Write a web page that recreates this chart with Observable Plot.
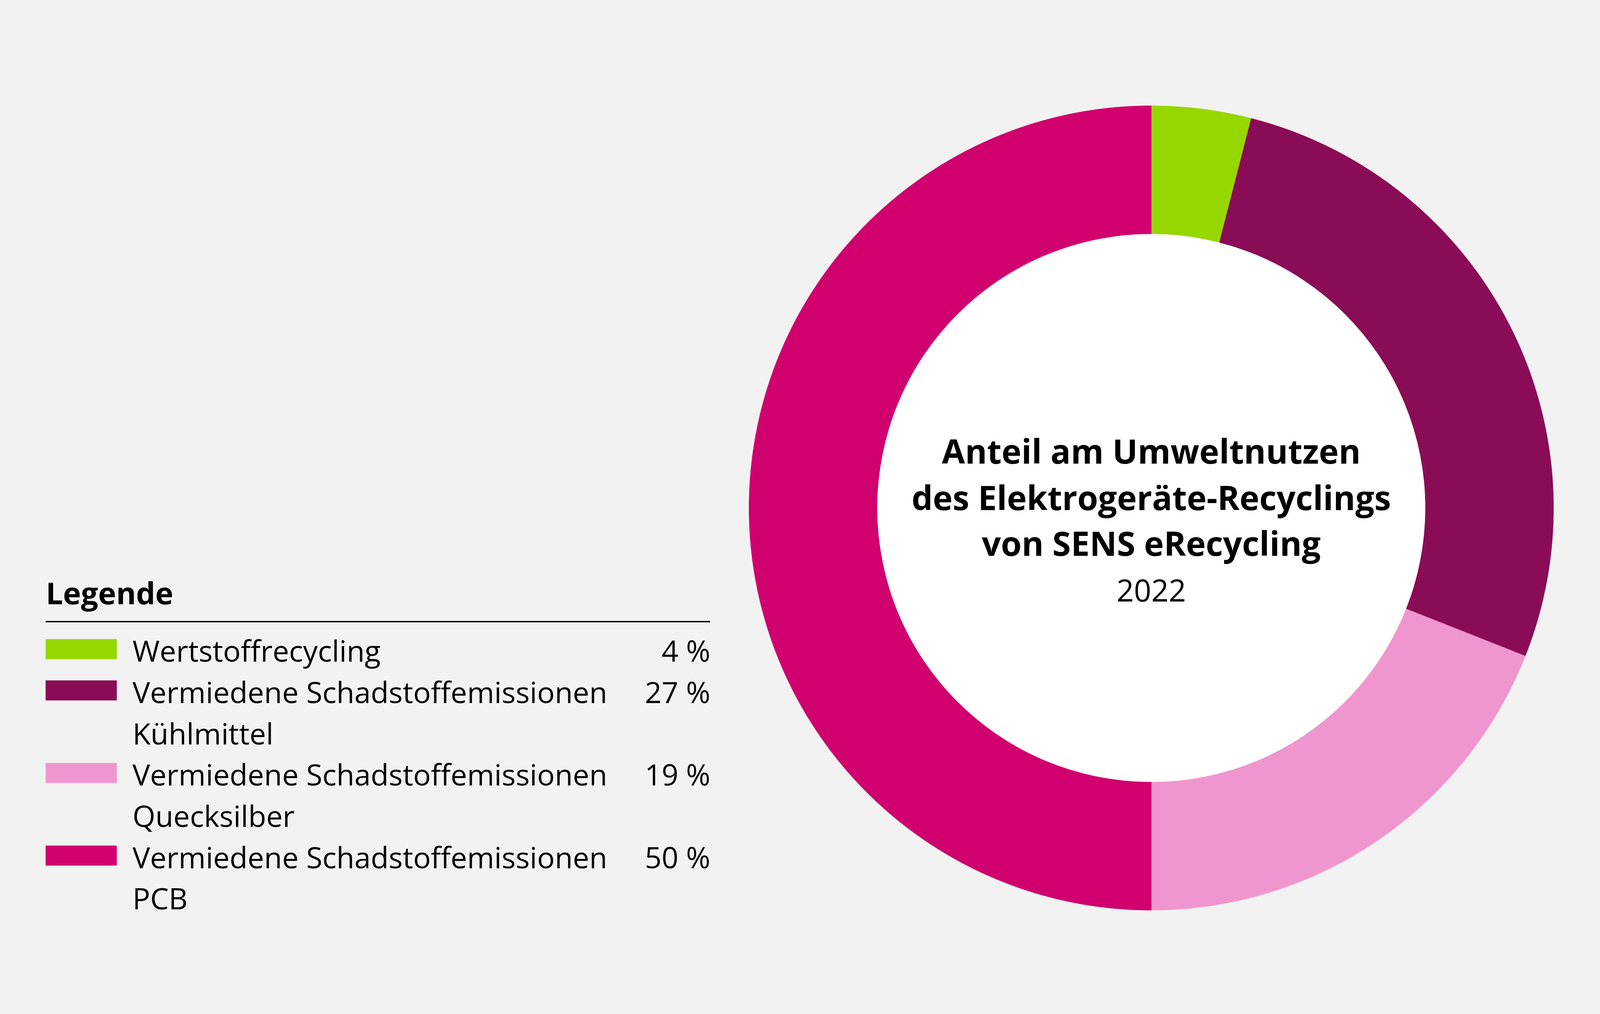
<!DOCTYPE html>
<html><head><meta charset="utf-8">
<script src="https://cdn.jsdelivr.net/npm/d3@7"></script>
<script src="https://cdn.jsdelivr.net/npm/@observablehq/plot@0.6"></script>
<style>
html,body{margin:0;padding:0;background:#f2f2f2;height:100%;overflow:hidden;}
#chart{width:100%;height:100vh;display:flex;align-items:center;justify-content:center;}
#chart svg{display:block;width:100%;height:auto;max-width:100%;}
svg text.onum{font-variant-numeric:oldstyle-nums;font-feature-settings:"onum" 1;}
</style>
</head><body><div id="chart"></div>
<script>
// ---- data ----
const categories = [
  "Wertstoffrecycling",
  "Vermiedene Schadstoffemissionen Kühlmittel",
  "Vermiedene Schadstoffemissionen Quecksilber",
  "Vermiedene Schadstoffemissionen PCB"
];
const labelLines = [
  ["Wertstoffrecycling"],
  ["Vermiedene Schadstoffemissionen", "Kühlmittel"],
  ["Vermiedene Schadstoffemissionen", "Quecksilber"],
  ["Vermiedene Schadstoffemissionen", "PCB"]
];
const shares = [4, 27, 19, 50];
const colors = ["#97d700", "#8a0c56", "#f096ce", "#d0006f"];
const titleLines = ["Anteil am Umweltnutzen", "des Elektrogeräte-Recyclings", "von SENS eRecycling"];
const subtitle = "2022";
const legendTitle = "Legende";

// ---- layout ----
const W = 4630, H = 2596;
const cx = 3331, cy = 1300, R = 1164, r0 = 793;
const font = "'Open Sans', 'Noto Sans', sans-serif";

// pie geometry from the data
const arcs = d3.pie().sort(null).value(d => d)(shares);
const wedge = [];
arcs.forEach((a, i) => {
  const cat = categories[i];
  wedge.push({cat, x: cx, y: cy});
  const n = Math.max(8, Math.ceil((a.endAngle - a.startAngle) / 0.002));
  for (let k = 0; k <= n; k++) {
    const t = a.startAngle + (a.endAngle - a.startAngle) * k / n;
    wedge.push({cat, x: cx + R * Math.sin(t), y: cy - R * Math.cos(t)});
  }
  wedge.push({cat, x: cx, y: cy});
});

// legend rows
const lx0 = 132, lx1 = 2055, textX = 383, base0 = 1745, step = 119.5;
const legendRows = [];
const pctRows = [];
let k = 0;
labelLines.forEach((lines, i) => {
  pctRows.push({cat: categories[i], v: shares[i], y: base0 + k * step});
  lines.forEach((t, j) => { legendRows.push({cat: categories[i], text: t, y: base0 + k * step}); k++; });
});

const chart = Plot.plot({
  width: W, height: H,
  margin: 0,
  style: {background: "#f2f2f2", fontFamily: font},
  x: {domain: [0, W], range: [0, W], axis: null},
  y: {domain: [0, H], range: [0, H], axis: null},
  color: {domain: categories, range: colors},
  marks: [
    Plot.line(wedge, {x: "x", y: "y", z: "cat", fill: "cat", stroke: "cat", strokeWidth: 1, curve: "linear"}),
    Plot.dot([0], {x: () => cx, y: () => cy, r: r0, fill: "white", stroke: null}),
    Plot.text(titleLines, {x: () => cx, y: (d, i) => [1172, 1306, 1439][i], text: d => d,
      fontSize: 97, fontWeight: 700, fill: "black", textAnchor: "middle", lineAnchor: "bottom", fontFamily: font}),
    Plot.text([subtitle], {x: () => cx, y: () => 1571, text: d => d, fontSize: 88, fontWeight: 400,
      fill: "black", textAnchor: "middle", lineAnchor: "bottom", fontFamily: font, className: "onum"}),
    Plot.text([legendTitle], {x: () => lx0, y: () => 1579, text: d => d, fontSize: 88, fontWeight: 700,
      fill: "black", textAnchor: "start", lineAnchor: "bottom", fontFamily: font}),
    Plot.ruleY([1629], {x1: lx0, x2: lx1, stroke: "black", strokeWidth: 4}),
    Plot.rect(pctRows, {x1: lx0, x2: 338, y1: d => d.y - 65, y2: d => d.y - 7, fill: "cat"}),
    Plot.text(legendRows, {x: () => textX, y: "y", text: "text", fontSize: 85, fontWeight: 400,
      fill: "black", textAnchor: "start", lineAnchor: "bottom", fontFamily: font}),
    Plot.text(pctRows, {x: () => lx1, y: "y", text: d => `${d.v} %`, fontSize: 85, fontWeight: 400,
      fill: "black", textAnchor: "end", lineAnchor: "bottom", fontFamily: font, className: "onum"})
  ]
});
document.getElementById("chart").appendChild(chart);
</script>
</body></html>
